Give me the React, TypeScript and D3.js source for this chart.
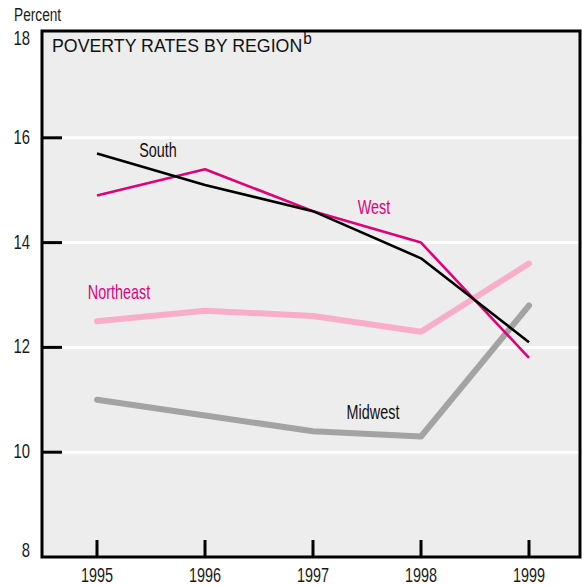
import React from "react";
import * as d3 from "d3";

const years = [1995, 1996, 1997, 1998, 1999];
const yTicks = [8, 10, 12, 14, 16, 18];
const south = [15.7, 15.1, 14.6, 13.7, 12.1];
const west = [14.9, 15.4, 14.6, 14.0, 11.8];
const northeast = [12.5, 12.7, 12.6, 12.3, 13.6];
const midwest = [11.0, 10.7, 10.4, 10.3, 12.8];

const W = 582, H = 586;
const box = { left: 42, right: 580, top: 31, bottom: 557 };
const font = "'Liberation Sans', Arial, sans-serif";

function NText(props: { x: number; y: number; size: number; sx?: number; anchor?: string; fill?: string; children: React.ReactNode }) {
  const { x, y, size, sx = 0.74, anchor = "start", fill = "#1a1a1a", children } = props;
  return (
    <text transform={`translate(${x},${y}) scale(${sx},1)`} textAnchor={anchor} fontFamily={font} fontSize={size} fill={fill}>
      {children}
    </text>
  );
}

export default function App() {
  const x = d3.scaleLinear().domain([1995, 1999]).range([97, 529]);
  const y = d3.scaleLinear().domain([8, 18]).range([557, 33]);
  const line = d3.line<number>().x((_, i) => x(years[i])).y((d) => y(d));

  const series = [
    { name: "Midwest", data: midwest, color: "#a3a3a3", width: 6 },
    { name: "Northeast", data: northeast, color: "#f8adc9", width: 6 },
    { name: "West", data: west, color: "#e2007a", width: 2.6 },
    { name: "South", data: south, color: "#000000", width: 2.6 },
  ];

  return (
    <svg width={W} height={H} style={{ position: "absolute", left: 0, top: 0 }}>
      <rect x={box.left} y={box.top} width={box.right - box.left} height={box.bottom - box.top} fill="#ededed" />
      {yTicks.filter((t) => t > 8 && t < 18).map((t) => (
        <g key={t}>
          <line x1={box.left} x2={box.right} y1={y(t)} y2={y(t)} stroke="#ffffff" strokeWidth={3} />
          <line x1={box.left} x2={box.left + 20} y1={y(t)} y2={y(t)} stroke="#000" strokeWidth={3} />
        </g>
      ))}
      {series.map((s) => (
        <path key={s.name} d={line(s.data) || ""} fill="none" stroke={s.color} strokeWidth={s.width}
          strokeLinecap={s.width > 4 ? "round" : "butt"} strokeLinejoin="round" />
      ))}
      <rect x={box.left} y={box.top} width={box.right - box.left} height={box.bottom - box.top} fill="none" stroke="#000" strokeWidth={3} />
      {years.map((yr) => (
        <g key={yr}>
          <line x1={x(yr)} x2={x(yr)} y1={box.bottom} y2={box.bottom - 17} stroke="#000" strokeWidth={3} />
          <NText x={x(yr)} y={582} size={19.5} anchor="middle">{yr}</NText>
        </g>
      ))}
      {yTicks.map((t) => {
        const base = t === 18 ? 45 : t === 8 ? 557 : y(t) + 6;
        return (
          <NText key={t} x={30} y={base} size={19.5} sx={0.76} anchor="end">{t}</NText>
        );
      })}
      <NText x={14} y={21} size={18.5}>Percent</NText>
      <text x={52} y={52} fontFamily={font} fontSize={18.5} fill="#111" transform="translate(52,0) scale(0.96,1) translate(-52,0)">
        POVERTY RATES BY REGION
        <tspan fontSize={16} dy={-8} dx={1}>b</tspan>
      </text>
      <NText x={158} y={157} size={20} sx={0.72} anchor="middle" fill="#111">South</NText>
      <NText x={374} y={214} size={20} sx={0.72} anchor="middle" fill="#e2007a">West</NText>
      <NText x={119} y={299} size={20} sx={0.72} anchor="middle" fill="#e2007a">Northeast</NText>
      <NText x={373} y={419} size={20} sx={0.72} anchor="middle" fill="#111">Midwest</NText>
    </svg>
  );
}
